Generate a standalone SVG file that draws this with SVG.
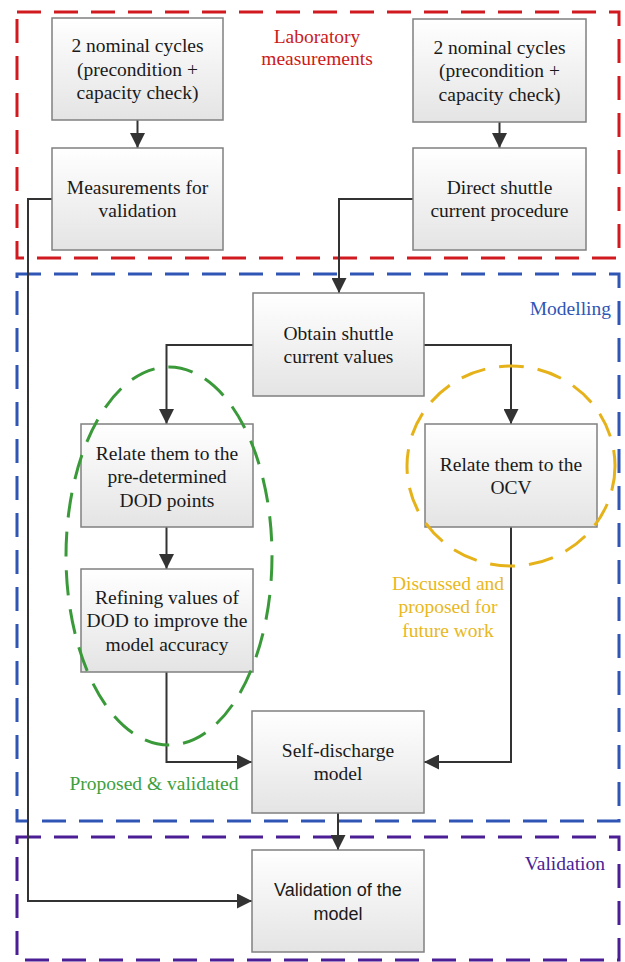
<svg xmlns="http://www.w3.org/2000/svg" width="625" height="962" viewBox="0 0 625 962">
<defs>
<linearGradient id="g" x1="0" y1="0" x2="0" y2="1">
<stop offset="0" stop-color="#ffffff"/>
<stop offset="1" stop-color="#e4e4e4"/>
</linearGradient>
<marker id="ah" markerUnits="userSpaceOnUse" markerWidth="15" markerHeight="15" refX="15" refY="7.5" orient="auto">
<path d="M0,0 L15,7.5 L0,15 z" fill="#333"/>
</marker>
<style>
.box{fill:url(#g);stroke:#808080;stroke-width:1.5}
text{font-family:'Liberation Serif','Times New Roman','DejaVu Serif','Noto Serif',serif;font-size:19.5px}
.t{fill:#1a1a1a;text-anchor:middle}
.ts{font-family:'Liberation Sans',Arial,sans-serif;font-size:18px;fill:#1a1a1a;text-anchor:middle}
.grp{fill:none;stroke-width:3;stroke-dasharray:24 13}
.c{fill:none;stroke:#333;stroke-width:2;marker-end:url(#ah)}
</style>
</defs>
<g id="groups">
<rect class="grp" x="17" y="12" width="602" height="246" stroke="#d01a20"/>
<rect class="grp" x="17" y="274" width="602" height="547" stroke="#2f55b5"/>
<rect class="grp" x="17" y="837" width="602" height="123" stroke="#4b1e96"/>
<text x="317" y="42.5" fill="#cc1a1a" text-anchor="middle" font-family="Liberation Serif, Times New Roman, serif">Laboratory</text>
<text x="317" y="64.5" fill="#cc1a1a" text-anchor="middle" font-family="Liberation Serif, Times New Roman, serif">measurements</text>
<text x="611" y="314.5" fill="#2f55b5" text-anchor="end" font-family="Liberation Serif, Times New Roman, serif">Modelling</text>
<text x="605" y="869.5" fill="#4b1e96" text-anchor="end" font-family="Liberation Serif, Times New Roman, serif">Validation</text>
</g>
<g id="connectors">
<path class="c" d="M137.5,120 V148"/>
<path class="c" d="M499.5,122 V148"/>
<path class="c" d="M52,199 H28 V901 H252"/>
<path class="c" d="M413,199 H339 V293"/>
<path class="c" d="M253,345 H166.5 V424"/>
<path class="c" d="M424,345 H511 V424"/>
<path class="c" d="M166.5,527 V569"/>
<path class="c" d="M166.5,672 V762 H252"/>
<path class="c" d="M511,527 V762 H424"/>
<path class="c" d="M338,813 V850"/>
</g>
<g id="n1"><rect class="box" x="52" y="18" width="171" height="102"/>
<text class="t" x="137.5" y="52">2 nominal cycles</text><text class="t" x="137.5" y="75.5">(precondition +</text><text class="t" x="137.5" y="99">capacity check)</text></g>
<g id="n2"><rect class="box" x="413" y="19" width="173" height="103"/>
<text class="t" x="499.5" y="53.5">2 nominal cycles</text><text class="t" x="499.5" y="77">(precondition +</text><text class="t" x="499.5" y="100.5">capacity check)</text></g>
<g id="n3"><rect class="box" x="52" y="148" width="171" height="102"/>
<text class="t" x="137.5" y="193.5">Measurements for</text><text class="t" x="137.5" y="217">validation</text></g>
<g id="n4"><rect class="box" x="413" y="148" width="173" height="102"/>
<text class="t" x="499.5" y="193.5">Direct shuttle</text><text class="t" x="499.5" y="217">current procedure</text></g>
<g id="n5"><rect class="box" x="253" y="293" width="171" height="103"/>
<text class="t" x="338.5" y="339.5">Obtain shuttle</text><text class="t" x="338.5" y="363">current values</text></g>
<g id="n6"><rect class="box" x="81" y="424" width="172" height="103"/>
<text class="t" x="167" y="459.5">Relate them to the</text><text class="t" x="167" y="483">pre-determined</text><text class="t" x="167" y="506.5">DOD points</text></g>
<g id="n7"><rect class="box" x="425" y="424" width="172" height="103"/>
<text class="t" x="511" y="470.5">Relate them to the</text><text class="t" x="511" y="494">OCV</text></g>
<g id="n8"><rect class="box" x="81" y="569" width="172" height="103"/>
<text class="t" x="167" y="603.5">Refining values of</text><text class="t" x="167" y="627">DOD to improve the</text><text class="t" x="167" y="650.5">model accuracy</text></g>
<g id="n9"><rect class="box" x="252" y="711" width="172" height="102"/>
<text class="t" x="338" y="757">Self-discharge</text><text class="t" x="338" y="780">model</text></g>
<g id="n10"><rect class="box" x="252" y="850" width="172" height="102"/>
<text class="ts" x="338" y="895.5">Validation of the</text><text class="ts" x="338" y="919.5">model</text></g>
<g id="annotations">
<ellipse cx="169" cy="556" rx="103" ry="189" fill="none" stroke="#3a9a3a" stroke-width="3" stroke-dasharray="25 14"/>
<ellipse cx="511" cy="466" rx="104" ry="100" fill="none" stroke="#e6b21a" stroke-width="3" stroke-dasharray="25 14"/>
<text x="154" y="789.5" fill="#3da03d" text-anchor="middle">Proposed &amp; validated</text>
<text x="448" y="589.5" fill="#e8b820" text-anchor="middle">Discussed and</text>
<text x="448" y="613" fill="#e8b820" text-anchor="middle">proposed for</text>
<text x="448" y="636.5" fill="#e8b820" text-anchor="middle">future work</text>
</g>
</svg>
